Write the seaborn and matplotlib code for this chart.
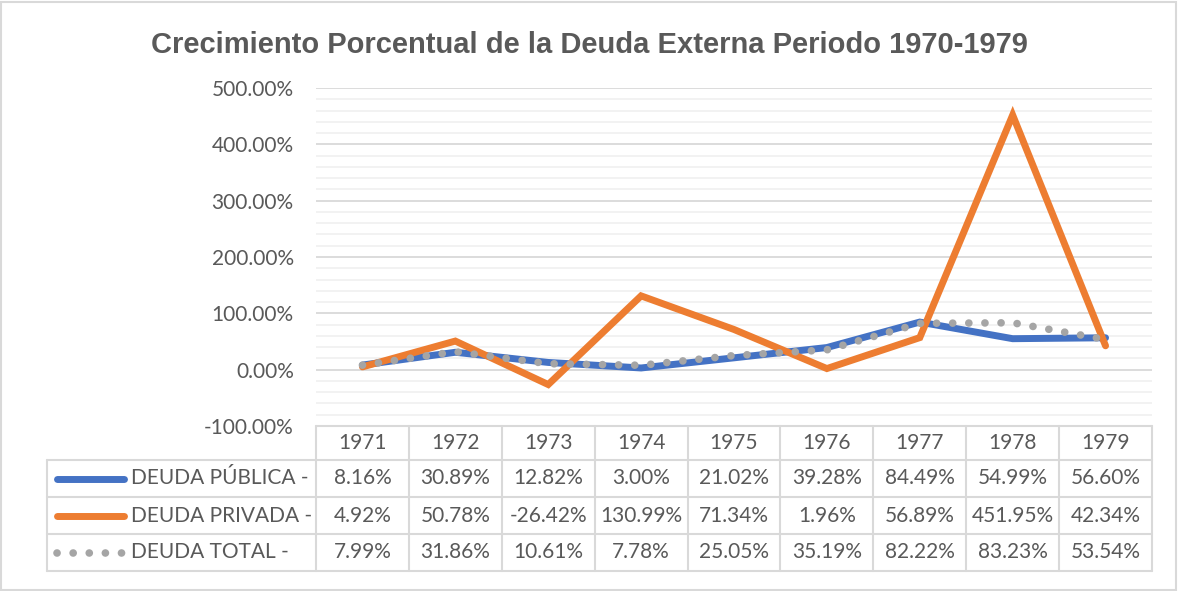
import matplotlib
matplotlib.use("Agg")
import matplotlib.pyplot as plt
import matplotlib.transforms as mtransforms
from matplotlib.patches import Rectangle
from matplotlib.ticker import MultipleLocator, FuncFormatter
import seaborn as sns
import pandas as pd

# Data (percent growth per year)
years = ["1971", "1972", "1973", "1974", "1975", "1976", "1977", "1978", "1979"]
deuda_publica = [8.16, 30.89, 12.82, 3.00, 21.02, 39.28, 84.49, 54.99, 56.60]
deuda_privada = [4.92, 50.78, -26.42, 130.99, 71.34, 1.96, 56.89, 451.95, 42.34]
deuda_total = [7.99, 31.86, 10.61, 7.78, 25.05, 35.19, 82.22, 83.23, 53.54]
series_names = ["DEUDA PÚBLICA -", "DEUDA PRIVADA -", "DEUDA TOTAL -"]

TXT = "#595959"
GRID = "#d9d9d9"
W, H = 1178, 591
FS = 15

sns.set_theme(style="white")
plt.rcParams["font.family"] = ["Lato", "DejaVu Sans"]

fig = plt.figure(figsize=(W / 100, H / 100), dpi=100)
ax = fig.add_axes([316 / W, 1 - 426 / H, (1152 - 316) / W, (426 - 88) / H])

idx = list(range(len(years)))
styles = [
    dict(color="#4472C4", lw=5, ls="-"),
    dict(color="#ED7D31", lw=5, ls="-"),
    dict(color="#A5A5A5", lw=5.5, ls=(0, (0.01, 2.1))),
]
all_series = [deuda_publica, deuda_privada, deuda_total]
for vals, name, st in zip(all_series, series_names, styles):
    df = pd.DataFrame({"x": idx, "y": vals})
    sns.lineplot(data=df, x="x", y="y", ax=ax, color=st["color"],
                 linewidth=st["lw"], linestyle=st["ls"])
    ln = ax.lines[-1]
    ln.set_solid_capstyle("round")
    ln.set_dash_capstyle("round")
    ln.set_solid_joinstyle("miter")

ax.set_xlim(-0.5, len(years) - 0.5)
ax.set_ylim(-100, 500)
ax.yaxis.set_major_locator(MultipleLocator(100))
ax.yaxis.set_minor_locator(MultipleLocator(20))
ax.yaxis.set_major_formatter(FuncFormatter(lambda v, p: f"{v:.2f}%"))
ax.grid(True, which="major", axis="y", color=GRID, lw=1.3)
ax.grid(True, which="minor", axis="y", color="#f0f0f0", lw=1.2)
ax.set_axisbelow(True)
ax.set_xticks([])
ax.set_xlabel("")
ax.set_ylabel("")
ax.tick_params(axis="y", which="both", length=0, labelsize=FS, labelcolor=TXT, pad=16)
for s in ax.spines.values():
    s.set_visible(False)

fig.text(0.5, 1 - 45 / H, "Crecimiento Porcentual de la Deuda Externa Periodo 1970-1979",
         ha="center", va="center", fontsize=21, fontweight="bold", color=TXT,
         family=["Liberation Sans", "DejaVu Sans"])

# Data table under the axis
tr = mtransforms.blended_transform_factory(ax.transData, fig.transFigure)
row_px = [426, 460, 497, 534, 571]
row_fy = [1 - r / H for r in row_px]
x0, x1 = -0.5, len(years) - 0.5
leg_left = 47 / W

def hline(y, full):
    if full:
        fig.add_artist(plt.Line2D([leg_left, 1152 / W], [y, y], color=GRID, lw=1.5,
                                  transform=fig.transFigure))
    else:
        fig.add_artist(plt.Line2D([x0, x1], [y, y], color=GRID, lw=1.5, transform=tr))

hline(row_fy[0], False)
for y in row_fy[1:]:
    hline(y, True)
for i in range(len(years) + 1):
    fig.add_artist(plt.Line2D([i - 0.5, i - 0.5], [row_fy[0], row_fy[-1]],
                              color=GRID, lw=1.5, transform=tr))
fig.add_artist(plt.Line2D([leg_left, leg_left], [row_fy[1], row_fy[-1]],
                          color=GRID, lw=1.5, transform=fig.transFigure))

hy = (row_fy[0] + row_fy[1]) / 2
for i, yr in enumerate(years):
    fig.text(i, hy, yr, transform=tr, ha="center", va="center", fontsize=FS, color=TXT)

for r, (vals, name, st) in enumerate(zip(all_series, series_names, styles)):
    cy = (row_fy[r + 1] + row_fy[r + 2]) / 2
    for i, v in enumerate(vals):
        fig.text(i, cy, f"{v:.2f}%", transform=tr, ha="center", va="center",
                 fontsize=FS, color=TXT)
    key = plt.Line2D([57 / W, 124 / W], [cy, cy], color=st["color"], lw=st["lw"],
                     ls=st["ls"], transform=fig.transFigure,
                     solid_capstyle="round", dash_capstyle="round")
    fig.add_artist(key)
    fig.text(131 / W, cy, name, ha="left", va="center", fontsize=FS, color=TXT)

# chart border
fig.add_artist(Rectangle((1 / W, 1 / H), (W - 3) / W, (H - 3) / H, fill=False,
                         edgecolor=GRID, lw=1.5, transform=fig.transFigure))

fig.savefig("out.png", dpi=100)
